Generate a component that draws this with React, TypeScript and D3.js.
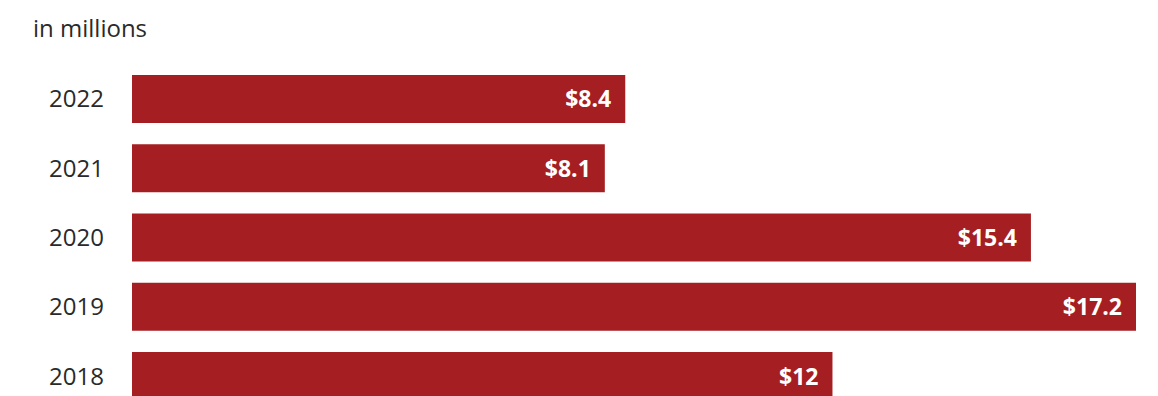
import React, { useEffect } from "react";
import * as d3 from "d3";

const years: string[] = ["2022", "2021", "2020", "2019", "2018"];
const values: number[] = [8.45, 8.1, 15.4, 17.2, 12];
const valueLabels: string[] = ["$8.4", "$8.1", "$15.4", "$17.2", "$12"];
const subtitle = "in millions";

const W = 1158;
const H = 396;

export default function App() {
  useEffect(() => {
    document.body.style.margin = "0";
  }, []);

  const x = d3.scaleLinear().domain([0, 17.2]).range([132, 1136]);
  const y = d3
    .scaleBand<string>()
    .domain(years)
    .range([75, 400])
    .paddingInner(0.307)
    .paddingOuter(0);

  const font = "'Open Sans', 'Liberation Sans', Arial, sans-serif";

  return (
    <svg width={W} height={H} style={{ display: "block", background: "#fff" }}>
      <text x={33} y={37} fontFamily={font} fontSize={24} fill="#2a2a2a">
        {subtitle}
      </text>
      {years.map((yr, i) => {
        const y0 = y(yr) as number;
        const bw = y.bandwidth();
        const cy = y0 + bw / 2;
        return (
          <g key={yr}>
            <text
              x={104}
              y={cy + 8.5}
              textAnchor="end"
              fontFamily={font}
              fontSize={24}
              fill="#2a2a2a"
            >
              {yr}
            </text>
            <rect x={x(0)} y={y0} width={x(values[i]) - x(0)} height={bw} fill="#a51e22" />
            <text
              x={x(values[i]) - 14}
              y={cy + 8.5}
              textAnchor="end"
              fontFamily={font}
              fontSize={23}
              fontWeight="bold"
              fill="#fff"
            >
              {valueLabels[i]}
            </text>
          </g>
        );
      })}
    </svg>
  );
}
